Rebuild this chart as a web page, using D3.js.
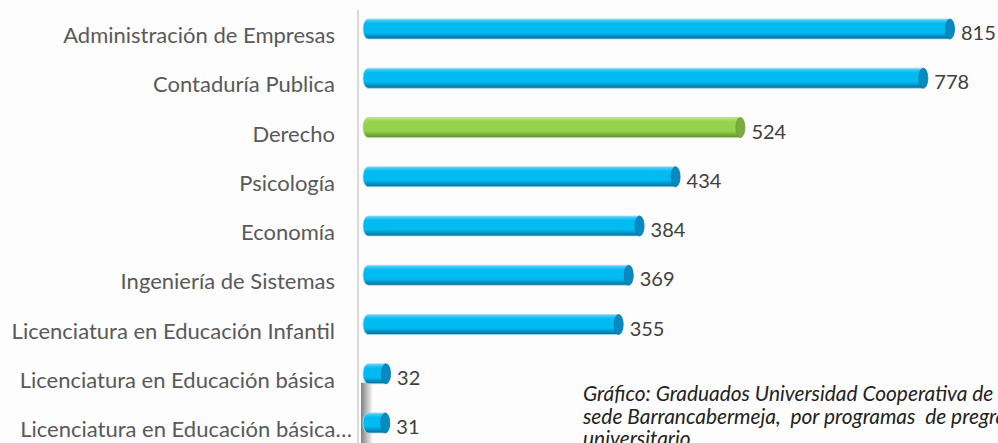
<!DOCTYPE html>
<html>
<head>
<meta charset="utf-8">
<script src="https://cdn.jsdelivr.net/npm/d3@7"></script>
<style>
  html, body { margin: 0; padding: 0; background: #fdfdfd; }
  svg { display: block; }
  .nota { white-space: pre; }
</style>
</head>
<body>
<div id="chart"></div>
<script>
// datos del grafico
const programas = [
  'Administración de Empresas',
  'Contaduría Publica',
  'Derecho',
  'Psicología',
  'Economía',
  'Ingeniería de Sistemas',
  'Licenciatura en Educación Infantil',
  'Licenciatura en Educación básica',
  'Licenciatura en Educación básica…'
];
const graduados = [815, 778, 524, 434, 384, 369, 355, 32, 31];
const destacado = ['Derecho'];
const nota = [
  'Gráfico: Graduados Universidad Cooperativa de',
  'sede Barrancabermeja,  por programas  de pregrado',
  'universitario'
];

const width = 998, height = 443;

const svg = d3.select('#chart').append('svg')
  .attr('width', width)
  .attr('height', height);

const defs = svg.append('defs');

function cylGradient(id, light, mid, dark) {
  const g = defs.append('linearGradient')
    .attr('id', id).attr('x1', 0).attr('y1', 0).attr('x2', 0).attr('y2', 1);
  g.append('stop').attr('offset', '0%').attr('stop-color', light);
  g.append('stop').attr('offset', '22%').attr('stop-color', mid);
  g.append('stop').attr('offset', '68%').attr('stop-color', mid);
  g.append('stop').attr('offset', '100%').attr('stop-color', dark);
}
cylGradient('gBlue', '#5fd2ff', '#00baf2', '#086c98');
cylGradient('gGreen', '#b9e67c', '#96d24c', '#5e8c2c');

const sh = defs.append('linearGradient')
  .attr('id', 'gShadow').attr('x1', 0).attr('y1', 0).attr('x2', 1).attr('y2', 0);
sh.append('stop').attr('offset', '0%').attr('stop-color', '#000').attr('stop-opacity', 0.7);
sh.append('stop').attr('offset', '100%').attr('stop-color', '#000').attr('stop-opacity', 0);

// escalas
const x = d3.scaleLinear().domain([0, 815]).range([363, 950]);
const y = d3.scalePoint().domain(programas).range([29, 423]);
const barH = 20;

// eje vertical
svg.append('line')
  .attr('x1', 358).attr('x2', 358)
  .attr('y1', 10).attr('y2', height)
  .attr('stroke', '#d9d9d9').attr('stroke-width', 2);

// sombra bajo las barras pequeñas
svg.append('rect')
  .attr('x', 361).attr('y', y(programas[7]) + 9)
  .attr('width', 12).attr('height', height - y(programas[7]) - 9)
  .attr('fill', 'url(#gShadow)')
  .attr('opacity', 0.7);

const data = programas.map((p, i) => ({ name: p, value: graduados[i] }));

const bars = svg.append('g').selectAll('g')
  .data(data)
  .enter().append('g');

function bodyPath(d) {
  const x0 = x(0), x1 = x(d.value), yc = y(d.name), r = barH / 2;
  const rl = 5;
  return `M${x0 + rl},${yc - r} L${x1},${yc - r} L${x1},${yc + r} L${x0 + rl},${yc + r}` +
    ` A${rl},${r} 0 0 1 ${x0 + rl},${yc - r} Z`;
}

bars.append('path')
  .attr('d', bodyPath)
  .attr('fill', d => destacado.includes(d.name) ? 'url(#gGreen)' : 'url(#gBlue)')
  .attr('stroke', d => destacado.includes(d.name) ? '#b9d99a' : '#a8d8ee')
  .attr('stroke-width', 0.8);

bars.append('ellipse')
  .attr('cx', d => x(d.value))
  .attr('cy', d => y(d.name))
  .attr('rx', 4.5)
  .attr('ry', barH / 2)
  .attr('fill', d => destacado.includes(d.name) ? '#7aab3e' : '#0889c0')
  .attr('stroke', d => destacado.includes(d.name) ? '#6a9a35' : '#0a78a8')
  .attr('stroke-width', 0.8);

// valores
bars.append('text')
  .attr('x', d => x(d.value) + 11)
  .attr('y', d => y(d.name) + 11)
  .attr('font-family', 'Lato, sans-serif')
  .attr('font-size', 20)
  .attr('fill', '#404040')
  .text(d => d.value);

// etiquetas de categorias
svg.append('g').selectAll('text')
  .data(data)
  .enter().append('text')
  .attr('x', (d, i) => i === programas.length - 1 ? 352 : 335)
  .attr('y', d => y(d.name) + 14)
  .attr('text-anchor', 'end')
  .attr('font-family', 'Lato, sans-serif')
  .attr('font-size', 22)
  .attr('fill', '#595959')
  .text(d => d.name);

// nota al pie (recortada por el borde, como en el original)
svg.append('g').selectAll('text')
  .data(nota)
  .enter().append('text')
  .attr('class', 'nota')
  .attr('x', 583)
  .attr('y', (d, i) => 401 + i * 22.5)
  .attr('font-family', 'Lato, sans-serif')
  .attr('font-style', 'italic')
  .attr('font-size', 20.9)
  .attr('fill', '#222')
  .text(d => d);
</script>
</body>
</html>
